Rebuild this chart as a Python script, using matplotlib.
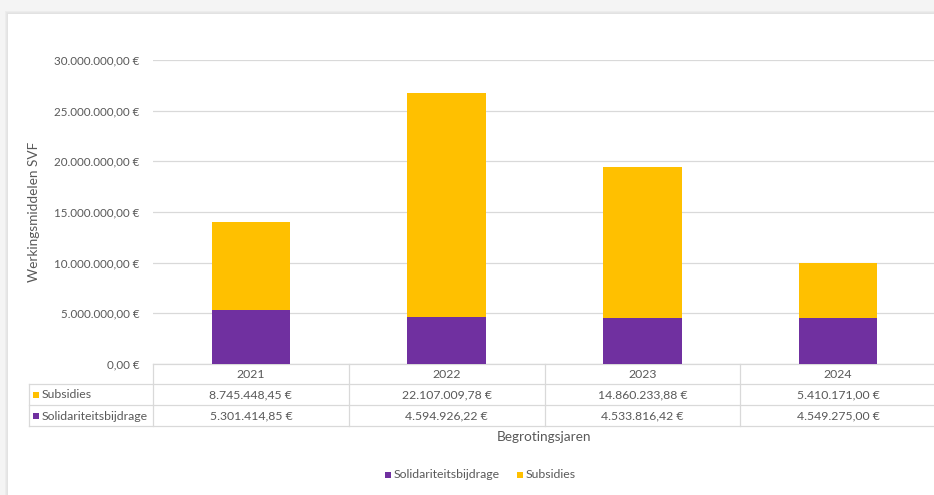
import matplotlib
matplotlib.use("Agg")
import matplotlib.pyplot as plt
from matplotlib.patches import Rectangle
from matplotlib.lines import Line2D
import matplotlib.transforms as mtransforms

years = ["2021", "2022", "2023", "2024"]
solidariteit = [5301414.85, 4594926.22, 4533816.42, 4549275.00]
subsidies = [8745448.45, 22107009.78, 14860233.88, 5410171.00]
yticks = [0, 5e6, 10e6, 15e6, 20e6, 25e6, 30e6]

PURPLE = "#7030A0"
YELLOW = "#FFC000"
TXT = "#595959"
GRID = "#D9D9D9"
FONT = "Lato"
FS = 8.8

def eur(v):
    s = f"{v:,.2f}"
    s = s.replace(",", "X").replace(".", ",").replace("X", ".")
    return s + " €"

W, H = 934, 495
fig = plt.figure(figsize=(W / 100, H / 100), dpi=100)
fig.patch.set_facecolor("#F4F4F4")

# card with soft shadow
for i, c in enumerate(["#ECECEC", "#E6E6E6", "#E2E2E2"]):
    fig.patches.append(Rectangle(((5 + i) / W, 0), 1, (H - 11 - i) / H,
                                 transform=fig.transFigure, facecolor=c,
                                 edgecolor="none", zorder=-10))
fig.patches.append(Rectangle((8 / W, 0), 1, (H - 14) / H, transform=fig.transFigure,
                             facecolor="white", edgecolor="none", zorder=-9))

px_left, px_right = 153, 936
px_top, px_bottom = 60, 364
ax = fig.add_axes([px_left / W, (H - px_bottom) / H,
                   (px_right - px_left) / W, (px_bottom - px_top) / H])
ax.set_zorder(2)
ax.set_facecolor("none")
x = list(range(len(years)))
ax.bar(x, solidariteit, width=0.4, color=PURPLE, zorder=3)
ax.bar(x, subsidies, width=0.4, bottom=solidariteit, color=YELLOW, zorder=3)
ax.set_xlim(-0.5, len(years) - 0.5)
ax.set_ylim(0, 30e6)
ax.set_yticks(yticks)
ax.set_yticklabels([eur(v) for v in yticks], fontsize=8.4, color=TXT, family=FONT)
ax.tick_params(axis="y", length=0, pad=9.5)
ax.set_xticks([])
for s in ax.spines.values():
    s.set_visible(False)
ax.grid(axis="y", color=GRID, linewidth=0.9, zorder=0)
ax.set_axisbelow(True)

ax.text(-0.152, 0.5, "Werkingsmiddelen SVF", transform=ax.transAxes, rotation=90,
        ha="center", va="center", fontsize=9.8, color=TXT, family=FONT)

# data table
ah = px_bottom - px_top
def ya(py):
    return (px_bottom - py) / ah

blend = mtransforms.blended_transform_factory(ax.transData, ax.transAxes)
lab_x0 = (29 - px_left) / (px_right - px_left)
rows = [384, 405, 426]
kw = dict(color=GRID, linewidth=0.9, clip_on=False)
ax.add_line(Line2D([0, 1], [ya(364), ya(364)], transform=ax.transAxes, **kw))
for r in rows:
    ax.add_line(Line2D([lab_x0, 1], [ya(r), ya(r)], transform=ax.transAxes, **kw))
ax.add_line(Line2D([lab_x0, lab_x0], [ya(384), ya(426)], transform=ax.transAxes, **kw))
for b in [-0.5, 0.5, 1.5, 2.5]:
    ax.add_line(Line2D([b, b], [ya(364), ya(426)], transform=blend, **kw))

for i, yr in enumerate(years):
    ax.text(i, ya(374.5), yr, transform=blend, ha="center", va="center",
            fontsize=FS, color=TXT, family=FONT)
    ax.text(i, ya(395), eur(subsidies[i]), transform=blend, ha="center", va="center",
            fontsize=FS, color=TXT, family=FONT)
    ax.text(i, ya(416), eur(solidariteit[i]), transform=blend, ha="center", va="center",
            fontsize=FS, color=TXT, family=FONT)

sq = 6
for py, name, col in [(395, "Subsidies", YELLOW), (416, "Solidariteitsbijdrage", PURPLE)]:
    fig.patches.append(Rectangle((33 / W, (H - py - sq / 2) / H), sq / W, sq / H,
                                 transform=fig.transFigure, facecolor=col,
                                 edgecolor="none", zorder=5))
    fig.text(42 / W, (H - py) / H, name, ha="left", va="center", fontsize=FS,
             color=TXT, family=FONT)

fig.text(544 / W, (H - 437) / H, "Begrotingsjaren", ha="center", va="center",
         fontsize=9.8, color=TXT, family=FONT)

# legend
for px, name, col in [(385, "Solidariteitsbijdrage", PURPLE), (517, "Subsidies", YELLOW)]:
    fig.patches.append(Rectangle((px / W, (H - 475 - sq / 2) / H), sq / W, sq / H,
                                 transform=fig.transFigure, facecolor=col,
                                 edgecolor="none", zorder=5))
    fig.text((px + 9) / W, (H - 475) / H, name, ha="left", va="center", fontsize=FS,
             color=TXT, family=FONT)

fig.savefig("out.png", dpi=100, facecolor=fig.get_facecolor())
